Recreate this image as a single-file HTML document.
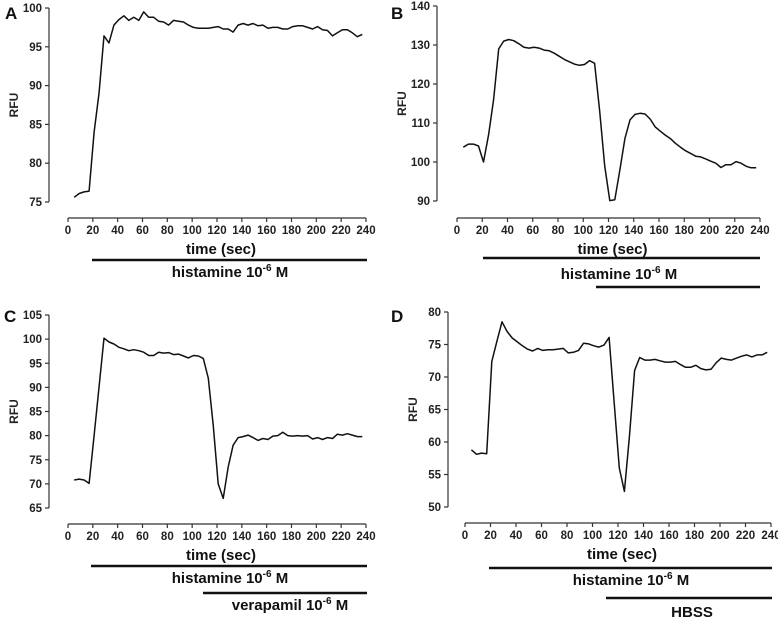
<!DOCTYPE html>
<html><head><meta charset="utf-8">
<style>
body{margin:0;background:#fff;}
svg{display:block;}
svg text{font-family:"Liberation Sans",Arial,sans-serif;font-weight:bold;}
</style></head>
<body>
<svg id="fig" width="778" height="618" viewBox="0 0 778 618"></svg>
<script>
const times = [5,9,13,17,21,25,29,33,37,41,45,49,53,57,61,65,69,73,77,81,85,89,93,97,101,105,109,113,117,121,125,129,133,137,141,145,149,153,157,161,165,169,173,177,181,185,189,193,197,201,205,209,213,217,221,225,229,233,237];
const xTicks = [0,20,40,60,80,100,120,140,160,180,200,220,240];
const seriesA = [75.6,76.1,76.3,76.4,84,89,96.4,95.5,97.8,98.5,99,98.4,98.8,98.4,99.5,98.8,98.8,98.3,98.2,97.8,98.4,98.3,98.2,97.8,97.5,97.4,97.4,97.4,97.5,97.6,97.3,97.3,96.9,97.8,98,97.8,98,97.7,97.8,97.4,97.5,97.5,97.3,97.3,97.6,97.7,97.7,97.5,97.3,97.6,97.2,97.1,96.4,96.8,97.2,97.2,96.8,96.3,96.6];
const seriesB = [103.8,104.6,104.6,104.1,100,107,116,129,131,131.4,131.1,130.3,129.4,129.2,129.4,129.2,128.7,128.5,127.9,127.1,126.3,125.7,125.1,124.8,125,126,125.3,113,99,90.1,90.3,98,106,110.8,112.2,112.5,112.3,111,109,107.9,106.9,106,104.8,103.8,102.9,102.2,101.5,101.3,100.8,100.2,99.7,98.6,99.3,99.3,100.1,99.7,98.9,98.5,98.5];
const seriesC = [70.8,71,70.8,70.1,80,90,100.2,99.4,99,98.3,98,97.6,97.8,97.6,97.3,96.6,96.6,97.3,97.1,97.2,96.8,96.9,96.5,96.1,96.6,96.5,96,91.9,82,70,67,73.5,78,79.6,79.8,80.1,79.6,79,79.4,79.2,79.9,80,80.7,80,79.9,80,79.9,80,79.3,79.6,79.2,79.6,79.4,80.3,80.1,80.4,80.1,79.8,79.8];
const seriesD = [58.8,58.1,58.3,58.2,72.4,75.5,78.5,77,76,75.4,74.8,74.3,74,74.4,74.1,74.2,74.2,74.3,74.4,73.7,73.8,74.1,75.2,75.1,74.8,74.6,74.9,76.1,66,56,52.4,61,71,73,72.6,72.6,72.7,72.5,72.3,72.3,72.4,71.9,71.5,71.5,71.8,71.3,71.1,71.2,72.2,72.9,72.7,72.6,72.9,73.2,73.4,73.1,73.4,73.4,73.8];
const yTicksA = [75,80,85,90,95,100];
const yTicksB = [90,100,110,120,130,140];
const yTicksC = [65,70,75,80,85,90,95,100,105];
const yTicksD = [50,55,60,65,70,75,80];

const NS="http://www.w3.org/2000/svg";
const svg=document.getElementById('fig');
function mk(tag,attrs,parent){const e=document.createElementNS(NS,tag);for(const k in attrs)e.setAttribute(k,attrs[k]);(parent||svg).appendChild(e);return e;}
function txt(s,attrs,parent){const e=mk('text',attrs,parent);e.textContent=s;return e;}

function panel(p){
  const g=mk('g',{});
  
  
  const ymin=p.yTicks[0], ymax=p.yTicks[p.yTicks.length-1];
  const X=t=>p.x0+t/240*(p.x1-p.x0);
  const Y=v=>p.yBot+(v-ymin)/(ymax-ymin)*(p.yTop-p.yBot);
  const lt=txt(p.id,{x:p.lx,y:p.ly,'font-size':17,fill:'#111'},g);
  
  
  const ya=mk('line',{x1:p.ax,x2:p.ax,y1:p.yTop,y2:p.yBot,stroke:'#333','stroke-width':1.2},g);
  
  
  p.yTicks.forEach(v=>{
    mk('line',{x1:p.ax-4,x2:p.ax,y1:Y(v),y2:Y(v),stroke:'#333','stroke-width':1.2},g);
    const t=txt(v,{x:p.ax-7,y:Y(v)+4,'font-size':11.5,'text-anchor':'end',fill:'#222'},g);
    
    
  });
  const yt=txt('RFU',{transform:`translate(${p.ax-31},${(p.yTop+p.yBot)/2}) rotate(-90)`,'font-size':12,'text-anchor':'middle',fill:'#222'},g);
  
  
  const xa=mk('line',{x1:p.x0,x2:p.x1,y1:p.xAxisY,y2:p.xAxisY,stroke:'#333','stroke-width':1.2},g);
  
  
  xTicks.forEach(v=>{
    mk('line',{x1:X(v),x2:X(v),y1:p.xAxisY,y2:p.xAxisY+4,stroke:'#333','stroke-width':1.2},g);
    const t=txt(v,{x:X(v),y:p.xAxisY+16,'font-size':11.5,'text-anchor':'middle',fill:'#222'},g);
    
    
  });
  const xt=txt('time (sec)',{x:(p.x0+p.x1)/2+4,y:p.xAxisY+36,'font-size':15,'text-anchor':'middle',fill:'#111'},g);
  
  
  const d=times.map((t,i)=>(i?'L':'M')+X(t).toFixed(1)+','+Y(p.data[i]).toFixed(1)).join(' ');
  const path=mk('path',{d:d,fill:'none',stroke:'#111','stroke-width':1.5,'stroke-linejoin':'round'},g);
  
  
  p.bars.forEach(b=>{
    const bl=mk('line',{x1:b.x1,x2:b.x2,y1:b.y,y2:b.y,stroke:'#111','stroke-width':2.4},g);
    
    
    if(!b.label) return;
    const tt=mk('text',{x:b.tx,y:b.ty,'font-size':15,'text-anchor':'middle',fill:'#111'},g);
    
    
    if(b.sup){
      tt.appendChild(document.createTextNode(b.label+' 10'));
      const s1=document.createElementNS(NS,'tspan');s1.setAttribute('font-size','10');s1.setAttribute('dy','-6');s1.textContent='-6';
      tt.appendChild(s1);
      const s2=document.createElementNS(NS,'tspan');s2.setAttribute('dy','6');s2.textContent=' M';
      tt.appendChild(s2);
    } else {
      tt.appendChild(document.createTextNode(b.label));
    }
  });
}

panel({id:'A',lx:5,ly:19,ax:49,yTop:8,yBot:202,x0:68,x1:366,xAxisY:218,yTicks:yTicksA,data:seriesA,
  bars:[{x1:92,x2:367,y:260,label:'histamine',sup:true,tx:230,ty:277}]});
panel({id:'B',lx:391,ly:19,ax:437,yTop:6,yBot:201,x0:457,x1:760,xAxisY:218,yTicks:yTicksB,data:seriesB,
  bars:[{x1:483,x2:760,y:258,label:'histamine',sup:true,tx:619,ty:279},{x1:596,x2:760,y:287,label:'',sup:false,tx:680,ty:300}]});
panel({id:'C',lx:4,ly:322,ax:49,yTop:315,yBot:508,x0:68,x1:366,xAxisY:524,yTicks:yTicksC,data:seriesC,
  bars:[{x1:91,x2:367,y:566,label:'histamine',sup:true,tx:230,ty:583},{x1:203,x2:367,y:593,label:'verapamil',sup:true,tx:290,ty:610}]});
panel({id:'D',lx:391,ly:322,ax:448,yTop:312,yBot:507,x0:465,x1:771,xAxisY:523,yTicks:yTicksD,data:seriesD,
  bars:[{x1:489,x2:772,y:568,label:'histamine',sup:true,tx:631,ty:585},{x1:606,x2:772,y:598,label:'HBSS',sup:false,tx:692,ty:617}]});
</script>
</body></html>
